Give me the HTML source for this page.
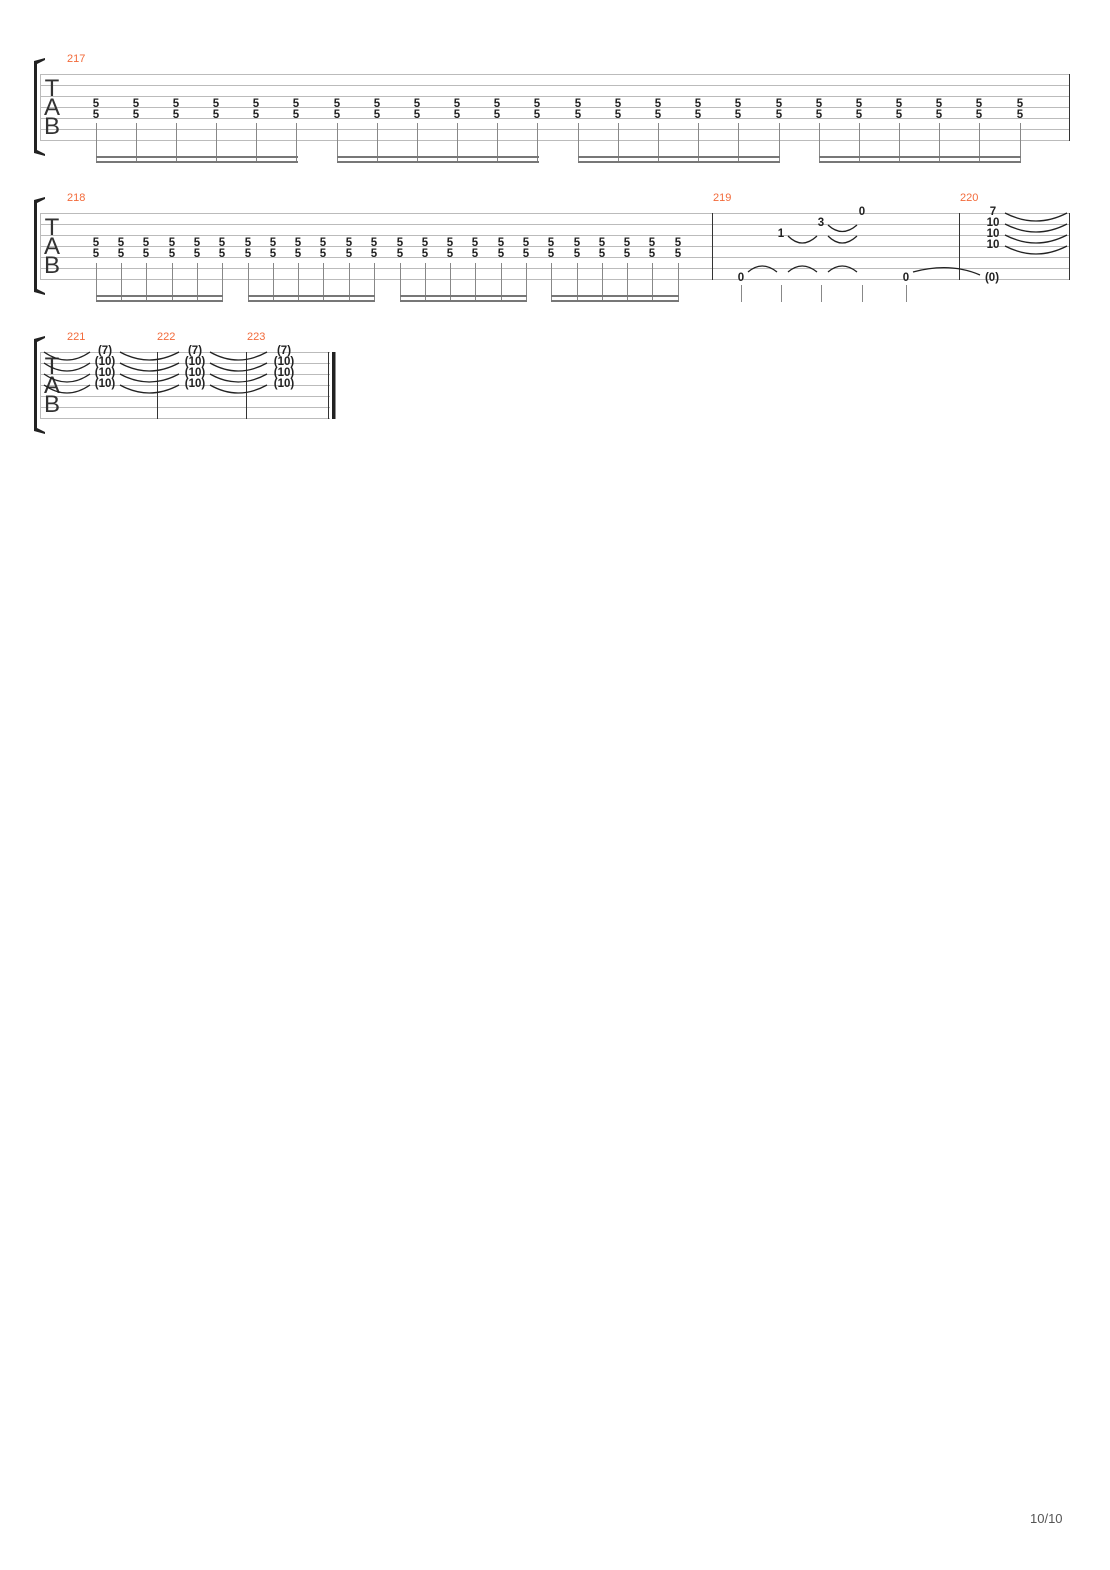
<!DOCTYPE html>
<html><head><meta charset="utf-8"><style>
html,body{margin:0;padding:0;background:#fff;}
svg{display:block;}
.n{font-family:"Liberation Sans",sans-serif;font-weight:bold;font-size:11.5px;fill:#222;text-anchor:middle;}
.m{font-family:"Liberation Sans",sans-serif;font-size:11px;fill:#f26a3a;}
.tab{font-family:"Liberation Sans",sans-serif;font-size:24px;fill:#333;text-anchor:middle;}
.sl{stroke:#bbb;stroke-width:1;}
.st{stroke:#888;stroke-width:1;}
.tie{fill:none;stroke:#222;stroke-width:1.3;}
</style></head><body>
<svg width="1110" height="1570" viewBox="0 0 1110 1570" xmlns="http://www.w3.org/2000/svg">
<g fill="#222">
<path d="M34 61 L45 58 L45 60 L37 64 L37 150 L45 154 L45 156 L34 153 Z"/>
<path d="M34 200 L45 197 L45 199 L37 203 L37 289 L45 293 L45 295 L34 292 Z"/>
<path d="M34 339 L45 336 L45 338 L37 342 L37 428 L45 432 L45 434 L34 431 Z"/>
</g>
<g class="sl">
<line x1="40" y1="74.5" x2="1069" y2="74.5"/><line x1="40" y1="85.5" x2="1069" y2="85.5"/><line x1="40" y1="96.5" x2="1069" y2="96.5"/><line x1="40" y1="107.5" x2="1069" y2="107.5"/><line x1="40" y1="118.5" x2="1069" y2="118.5"/><line x1="40" y1="129.5" x2="1069" y2="129.5"/><line x1="40" y1="140.5" x2="1069" y2="140.5"/>
<line x1="40.5" y1="74" x2="40.5" y2="141"/>
</g>
<line x1="1069.5" y1="74" x2="1069.5" y2="141" stroke="#333"/>
<text class="m" x="67" y="62">217</text>
<text class="tab" x="52" y="96">T</text><text class="tab" x="52" y="115">A</text><text class="tab" x="52" y="134">B</text>
<g class="n">
<text x="96" y="107">5</text><text x="96" y="118">5</text><text x="136" y="107">5</text><text x="136" y="118">5</text><text x="176" y="107">5</text><text x="176" y="118">5</text><text x="216" y="107">5</text><text x="216" y="118">5</text><text x="256" y="107">5</text><text x="256" y="118">5</text><text x="296" y="107">5</text><text x="296" y="118">5</text>
<text x="337" y="107">5</text><text x="337" y="118">5</text><text x="377" y="107">5</text><text x="377" y="118">5</text><text x="417" y="107">5</text><text x="417" y="118">5</text><text x="457" y="107">5</text><text x="457" y="118">5</text><text x="497" y="107">5</text><text x="497" y="118">5</text><text x="537" y="107">5</text><text x="537" y="118">5</text>
<text x="578" y="107">5</text><text x="578" y="118">5</text><text x="618" y="107">5</text><text x="618" y="118">5</text><text x="658" y="107">5</text><text x="658" y="118">5</text><text x="698" y="107">5</text><text x="698" y="118">5</text><text x="738" y="107">5</text><text x="738" y="118">5</text><text x="779" y="107">5</text><text x="779" y="118">5</text>
<text x="819" y="107">5</text><text x="819" y="118">5</text><text x="859" y="107">5</text><text x="859" y="118">5</text><text x="899" y="107">5</text><text x="899" y="118">5</text><text x="939" y="107">5</text><text x="939" y="118">5</text><text x="979" y="107">5</text><text x="979" y="118">5</text><text x="1020" y="107">5</text><text x="1020" y="118">5</text>
</g>
<g class="st">
<path d="M96.5 123V163M136.5 123V163M176.5 123V163M216.5 123V163M256.5 123V163M296.5 123V163M337.5 123V163M377.5 123V163M417.5 123V163M457.5 123V163M497.5 123V163M537.5 123V163M578.5 123V163M618.5 123V163M658.5 123V163M698.5 123V163M738.5 123V163M779.5 123V163M819.5 123V163M859.5 123V163M899.5 123V163M939.5 123V163M979.5 123V163M1020.5 123V163"/>
</g>
<g fill="#777">
<rect x="96" y="156" width="202" height="2"/><rect x="96" y="161" width="202" height="2"/>
<rect x="337" y="156" width="202" height="2"/><rect x="337" y="161" width="202" height="2"/>
<rect x="578" y="156" width="202" height="2"/><rect x="578" y="161" width="202" height="2"/>
<rect x="819" y="156" width="202" height="2"/><rect x="819" y="161" width="202" height="2"/>
</g>
<g class="sl">
<line x1="40" y1="213.5" x2="1069" y2="213.5"/><line x1="40" y1="224.5" x2="1069" y2="224.5"/><line x1="40" y1="235.5" x2="1069" y2="235.5"/><line x1="40" y1="246.5" x2="1069" y2="246.5"/><line x1="40" y1="257.5" x2="1069" y2="257.5"/><line x1="40" y1="268.5" x2="1069" y2="268.5"/><line x1="40" y1="279.5" x2="1069" y2="279.5"/>
<line x1="40.5" y1="213" x2="40.5" y2="280"/>
</g>
<g stroke="#333"><line x1="712.5" y1="213" x2="712.5" y2="280"/><line x1="959.5" y1="213" x2="959.5" y2="280"/><line x1="1069.5" y1="213" x2="1069.5" y2="280"/></g>
<text class="m" x="67" y="201">218</text><text class="m" x="713" y="201">219</text><text class="m" x="960" y="201">220</text>
<text class="tab" x="52" y="235">T</text><text class="tab" x="52" y="254">A</text><text class="tab" x="52" y="273">B</text>
<g class="n">
<text x="96" y="246">5</text><text x="96" y="257">5</text><text x="121" y="246">5</text><text x="121" y="257">5</text><text x="146" y="246">5</text><text x="146" y="257">5</text><text x="172" y="246">5</text><text x="172" y="257">5</text><text x="197" y="246">5</text><text x="197" y="257">5</text><text x="222" y="246">5</text><text x="222" y="257">5</text>
<text x="248" y="246">5</text><text x="248" y="257">5</text><text x="273" y="246">5</text><text x="273" y="257">5</text><text x="298" y="246">5</text><text x="298" y="257">5</text><text x="323" y="246">5</text><text x="323" y="257">5</text><text x="349" y="246">5</text><text x="349" y="257">5</text><text x="374" y="246">5</text><text x="374" y="257">5</text>
<text x="400" y="246">5</text><text x="400" y="257">5</text><text x="425" y="246">5</text><text x="425" y="257">5</text><text x="450" y="246">5</text><text x="450" y="257">5</text><text x="475" y="246">5</text><text x="475" y="257">5</text><text x="501" y="246">5</text><text x="501" y="257">5</text><text x="526" y="246">5</text><text x="526" y="257">5</text>
<text x="551" y="246">5</text><text x="551" y="257">5</text><text x="577" y="246">5</text><text x="577" y="257">5</text><text x="602" y="246">5</text><text x="602" y="257">5</text><text x="627" y="246">5</text><text x="627" y="257">5</text><text x="652" y="246">5</text><text x="652" y="257">5</text><text x="678" y="246">5</text><text x="678" y="257">5</text>
<text x="741" y="281">0</text><text x="781" y="237">1</text><text x="821" y="226">3</text><text x="862" y="215">0</text><text x="906" y="281">0</text>
<text x="993" y="215">7</text><text x="993" y="226">10</text><text x="993" y="237">10</text><text x="993" y="248">10</text><text x="992" y="281">(0)</text>
</g>
<g class="st">
<path d="M96.5 263V302M121.5 263V302M146.5 263V302M172.5 263V302M197.5 263V302M222.5 263V302M248.5 263V302M273.5 263V302M298.5 263V302M323.5 263V302M349.5 263V302M374.5 263V302M400.5 263V302M425.5 263V302M450.5 263V302M475.5 263V302M501.5 263V302M526.5 263V302M551.5 263V302M577.5 263V302M602.5 263V302M627.5 263V302M652.5 263V302M678.5 263V302"/>
<path d="M741.5 285V302M781.5 285V302M821.5 285V302M862.5 285V302M906.5 285V302"/>
</g>
<g fill="#777">
<rect x="96" y="295" width="127" height="2"/><rect x="96" y="300" width="127" height="2"/>
<rect x="248" y="295" width="127" height="2"/><rect x="248" y="300" width="127" height="2"/>
<rect x="400" y="295" width="127" height="2"/><rect x="400" y="300" width="127" height="2"/>
<rect x="551" y="295" width="128" height="2"/><rect x="551" y="300" width="128" height="2"/>
</g>
<g class="tie">
<path d="M748 272 Q762 260 777 272"/><path d="M788 272 Q802 260 817 272"/><path d="M828 272 Q842 260 857 272"/>
<path d="M913 272 Q950 262 980 275"/>
<path d="M788 236 Q802 250 817 236"/><path d="M828 225 Q842 238 857 225"/><path d="M828 236 Q842 250 857 236"/>
<path d="M1005 213 Q1036 229 1067 213"/><path d="M1005 224 Q1036 240 1067 224"/><path d="M1005 235 Q1036 251 1067 235"/><path d="M1005 246 Q1036 262 1067 246"/>
</g>
<g class="sl">
<line x1="40" y1="352.5" x2="330" y2="352.5"/><line x1="40" y1="363.5" x2="330" y2="363.5"/><line x1="40" y1="374.5" x2="330" y2="374.5"/><line x1="40" y1="385.5" x2="330" y2="385.5"/><line x1="40" y1="396.5" x2="330" y2="396.5"/><line x1="40" y1="407.5" x2="330" y2="407.5"/><line x1="40" y1="418.5" x2="330" y2="418.5"/>
<line x1="40.5" y1="352" x2="40.5" y2="419"/>
</g>
<g stroke="#333"><line x1="157.5" y1="352" x2="157.5" y2="419"/><line x1="246.5" y1="352" x2="246.5" y2="419"/><line x1="328.5" y1="352" x2="328.5" y2="419"/></g>
<rect x="332" y="352" width="3.5" height="67" fill="#222"/>
<text class="m" x="67" y="340">221</text><text class="m" x="157" y="340">222</text><text class="m" x="247" y="340">223</text>
<text class="tab" x="52" y="374">T</text><text class="tab" x="52" y="393">A</text><text class="tab" x="52" y="412">B</text>
<g class="n">
<text x="105" y="354">(7)</text><text x="105" y="365">(10)</text><text x="105" y="376">(10)</text><text x="105" y="387">(10)</text>
<text x="195" y="354">(7)</text><text x="195" y="365">(10)</text><text x="195" y="376">(10)</text><text x="195" y="387">(10)</text>
<text x="284" y="354">(7)</text><text x="284" y="365">(10)</text><text x="284" y="376">(10)</text><text x="284" y="387">(10)</text>
</g>
<g class="tie">
<path d="M44 352 Q67 368 90 352"/><path d="M44 363 Q67 379 90 363"/><path d="M44 374 Q67 390 90 374"/><path d="M44 385 Q67 401 90 385"/>
<path d="M120 352 Q149 368 179 352"/><path d="M120 363 Q149 379 179 363"/><path d="M120 374 Q149 390 179 374"/><path d="M120 385 Q149 401 179 385"/>
<path d="M210 352 Q238 368 267 352"/><path d="M210 363 Q238 379 267 363"/><path d="M210 374 Q238 390 267 374"/><path d="M210 385 Q238 401 267 385"/>
</g>
<text x="1030" y="1523" style="font-family:'Liberation Sans',sans-serif;font-size:13px;fill:#555">10/10</text>
</svg>
</body></html>
